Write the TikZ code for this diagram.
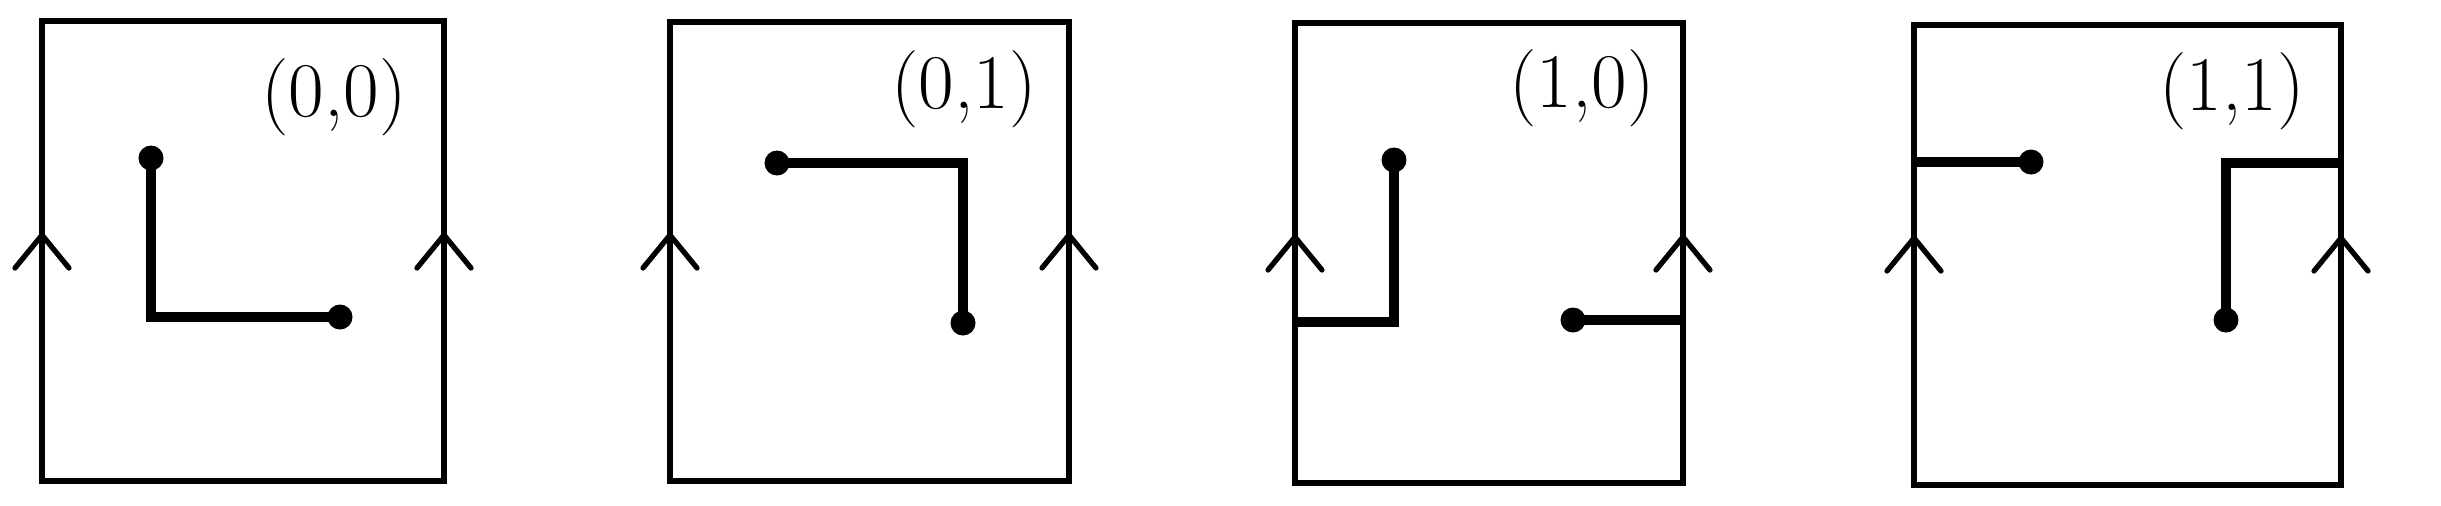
\documentclass[tikz,border=0pt]{standalone}
\begin{document}
\begin{tikzpicture}[x=0.01cm,y=-0.01cm,
  frame/.style={line width=1.65pt},
  chev/.style={line width=1.5pt,line cap=round,line join=miter},
  wire/.style={line width=2.9pt,line join=miter},
  dot/.style={circle,fill=black,draw=none,inner sep=0pt,minimum size=0.25cm},
  lab/.style={inner sep=0pt,font=\fontsize{22}{26}\selectfont}]
\useasboundingbox (0,0) rectangle (2441,505);
% ---------- panel 1 ----------
\coordinate (p1tl) at (42,21);
\coordinate (p1br) at (444,481);
\draw[frame] (p1tl) rectangle (p1br);
\draw[chev] (15,268) -- (42,235) -- (69,268);
\draw[chev] (417,268) -- (444,235) -- (471,268);
\node[lab] (l1) at (334,97) {(0,0)};
\node[dot] (a1) at (151,158) {};
\coordinate (c1) at (151,317);
\node[dot] (b1) at (340,317) {};
\draw[wire] (a1.center) -- (c1) -- (b1.center);
% ---------- panel 2 ----------
\coordinate (p2tl) at (670,22);
\coordinate (p2br) at (1069,481);
\draw[frame] (p2tl) rectangle (p2br);
\draw[chev] (643,268) -- (670,235) -- (697,268);
\draw[chev] (1042,268) -- (1069,235) -- (1096,268);
\node[lab] (l2) at (964,89) {(0,1)};
\node[dot] (a2) at (777,163) {};
\coordinate (c2) at (963,163);
\node[dot] (b2) at (963,323) {};
\draw[wire] (a2.center) -- (c2) -- (b2.center);
% ---------- panel 3 ----------
\coordinate (p3tl) at (1295,23);
\coordinate (p3br) at (1683,483);
\draw[frame] (p3tl) rectangle (p3br);
\draw[chev] (1268,270) -- (1295,237) -- (1322,270);
\draw[chev] (1656,270) -- (1683,237) -- (1710,270);
\node[lab] (l3) at (1582,88) {(1,0)};
\node[dot] (a3) at (1394,160) {};
\coordinate (c3) at (1394,322);
\coordinate (e3) at (1295,322);
\node[dot] (b3) at (1573,320) {};
\coordinate (f3) at (1683,320);
\draw[wire] (a3.center) -- (c3) -- (e3);
\draw[wire] (b3.center) -- (f3);
% ---------- panel 4 ----------
\coordinate (p4tl) at (1914,25);
\coordinate (p4br) at (2341,485);
\draw[frame] (p4tl) rectangle (p4br);
\draw[chev] (1887,271) -- (1914,238) -- (1941,271);
\draw[chev] (2314,271) -- (2341,238) -- (2368,271);
\node[lab] (l4) at (2232,91) {(1,1)};
\coordinate (e4) at (1914,162);
\node[dot] (a4) at (2031,162) {};
\coordinate (f4) at (2341,163);
\coordinate (c4) at (2226,163);
\node[dot] (b4) at (2226,320) {};
\draw[wire] (e4) -- (a4.center);
\draw[wire] (f4) -- (c4) -- (b4.center);
\end{tikzpicture}
\end{document}
